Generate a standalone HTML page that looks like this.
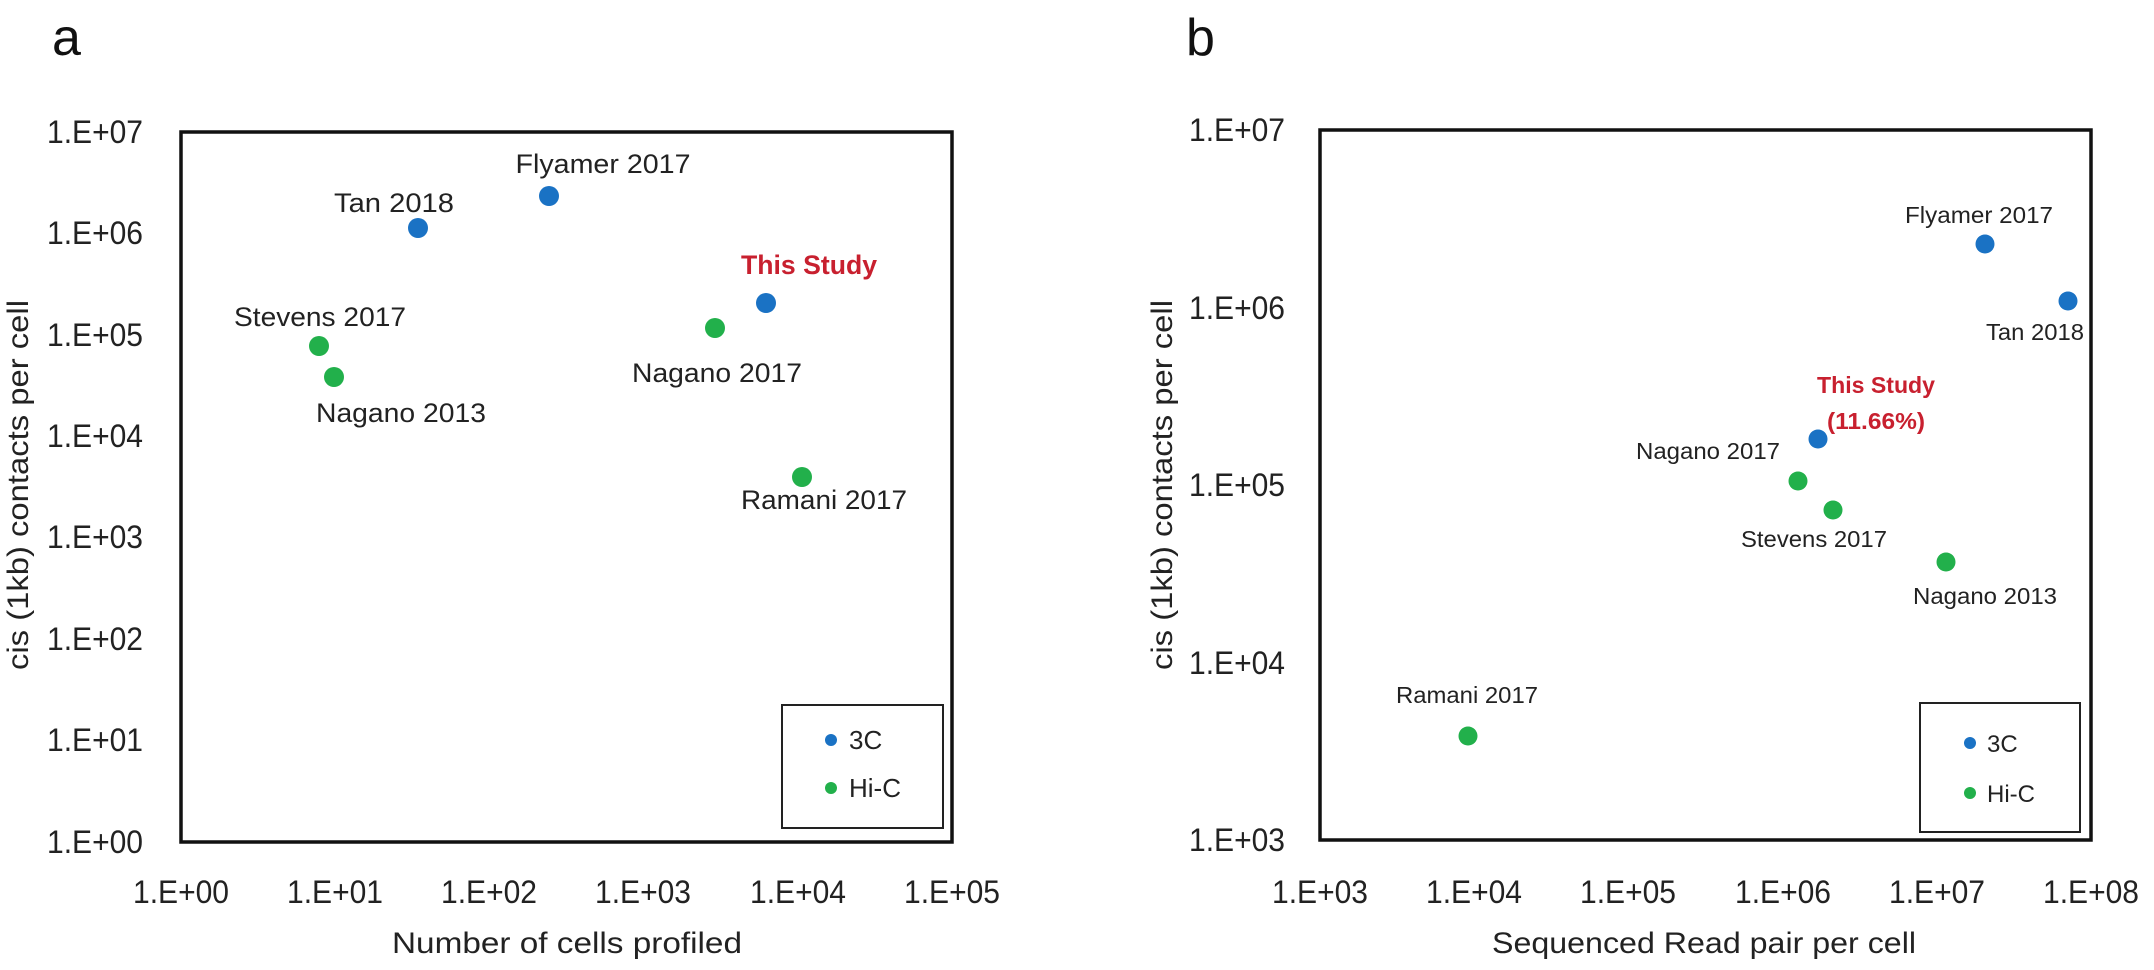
<!DOCTYPE html>
<html><head><meta charset="utf-8"><style>
html,body{margin:0;padding:0;background:#fff;}
svg{display:block;font-family:"Liberation Sans",sans-serif;}
</style></head><body>
<svg width="2154" height="970" viewBox="0 0 2154 970" xmlns="http://www.w3.org/2000/svg">
<rect width="2154" height="970" fill="#fff"/>
<!-- Panel a -->
<text x="52" y="55" font-size="52" fill="#111">a</text>
<rect x="181" y="132" width="771" height="710" fill="none" stroke="#111" stroke-width="3.5"/>
<g font-size="32" fill="#222" text-anchor="end">
<text x="143" y="143" textLength="96" lengthAdjust="spacingAndGlyphs">1.E+07</text>
<text x="143" y="244" textLength="96" lengthAdjust="spacingAndGlyphs">1.E+06</text>
<text x="143" y="346" textLength="96" lengthAdjust="spacingAndGlyphs">1.E+05</text>
<text x="143" y="447" textLength="96" lengthAdjust="spacingAndGlyphs">1.E+04</text>
<text x="143" y="548" textLength="96" lengthAdjust="spacingAndGlyphs">1.E+03</text>
<text x="143" y="650" textLength="96" lengthAdjust="spacingAndGlyphs">1.E+02</text>
<text x="143" y="751" textLength="96" lengthAdjust="spacingAndGlyphs">1.E+01</text>
<text x="143" y="853" textLength="96" lengthAdjust="spacingAndGlyphs">1.E+00</text>
</g>
<g font-size="32" fill="#222" text-anchor="middle">
<text x="181" y="903" textLength="96" lengthAdjust="spacingAndGlyphs">1.E+00</text>
<text x="335" y="903" textLength="96" lengthAdjust="spacingAndGlyphs">1.E+01</text>
<text x="489" y="903" textLength="96" lengthAdjust="spacingAndGlyphs">1.E+02</text>
<text x="643" y="903" textLength="96" lengthAdjust="spacingAndGlyphs">1.E+03</text>
<text x="798" y="903" textLength="96" lengthAdjust="spacingAndGlyphs">1.E+04</text>
<text x="952" y="903" textLength="96" lengthAdjust="spacingAndGlyphs">1.E+05</text>
</g>
<text x="567" y="953" font-size="30" fill="#222" text-anchor="middle" textLength="350" lengthAdjust="spacingAndGlyphs">Number of cells profiled</text>
<text transform="translate(28,485) rotate(-90)" font-size="30" fill="#222" text-anchor="middle" textLength="370" lengthAdjust="spacingAndGlyphs">cis (1kb) contacts per cell</text>
<g fill="#1a72c4">
<circle cx="418" cy="228" r="10"/><circle cx="549" cy="196" r="10"/><circle cx="766" cy="303" r="10"/>
</g>
<g fill="#22b04b">
<circle cx="715" cy="328" r="10"/><circle cx="319" cy="346" r="10"/><circle cx="334" cy="377" r="10"/><circle cx="802" cy="477" r="10"/>
</g>
<g font-size="27" fill="#222" text-anchor="middle">
<text x="394" y="212" textLength="120" lengthAdjust="spacingAndGlyphs">Tan 2018</text>
<text x="603" y="173" textLength="175" lengthAdjust="spacingAndGlyphs">Flyamer 2017</text>
<text x="320" y="326" textLength="172" lengthAdjust="spacingAndGlyphs">Stevens 2017</text>
<text x="401" y="422" textLength="170" lengthAdjust="spacingAndGlyphs">Nagano 2013</text>
<text x="717" y="382" textLength="170" lengthAdjust="spacingAndGlyphs">Nagano 2017</text>
<text x="824" y="509" textLength="166" lengthAdjust="spacingAndGlyphs">Ramani 2017</text>
</g>
<text x="809" y="274" font-size="27" font-weight="bold" fill="#c8202f" text-anchor="middle" textLength="136" lengthAdjust="spacingAndGlyphs">This Study</text>
<rect x="782" y="705" width="161" height="123" fill="#fff" stroke="#222" stroke-width="2"/>
<circle cx="831" cy="740" r="6" fill="#1a72c4"/>
<circle cx="831" cy="788" r="6" fill="#22b04b"/>
<g font-size="26" fill="#222"><text x="849" y="749">3C</text><text x="849" y="797">Hi-C</text></g>

<!-- Panel b -->
<text x="1186" y="55" font-size="52" fill="#111">b</text>
<rect x="1320" y="130" width="771" height="710" fill="none" stroke="#111" stroke-width="3.5"/>
<g font-size="32" fill="#222" text-anchor="end">
<text x="1285" y="141" textLength="96" lengthAdjust="spacingAndGlyphs">1.E+07</text>
<text x="1285" y="319" textLength="96" lengthAdjust="spacingAndGlyphs">1.E+06</text>
<text x="1285" y="496" textLength="96" lengthAdjust="spacingAndGlyphs">1.E+05</text>
<text x="1285" y="674" textLength="96" lengthAdjust="spacingAndGlyphs">1.E+04</text>
<text x="1285" y="851" textLength="96" lengthAdjust="spacingAndGlyphs">1.E+03</text>
</g>
<g font-size="32" fill="#222" text-anchor="middle">
<text x="1320" y="903" textLength="96" lengthAdjust="spacingAndGlyphs">1.E+03</text>
<text x="1474" y="903" textLength="96" lengthAdjust="spacingAndGlyphs">1.E+04</text>
<text x="1628" y="903" textLength="96" lengthAdjust="spacingAndGlyphs">1.E+05</text>
<text x="1783" y="903" textLength="96" lengthAdjust="spacingAndGlyphs">1.E+06</text>
<text x="1937" y="903" textLength="96" lengthAdjust="spacingAndGlyphs">1.E+07</text>
<text x="2091" y="903" textLength="96" lengthAdjust="spacingAndGlyphs">1.E+08</text>
</g>
<text x="1704" y="953" font-size="30" fill="#222" text-anchor="middle" textLength="424" lengthAdjust="spacingAndGlyphs">Sequenced Read pair per cell</text>
<text transform="translate(1172,485) rotate(-90)" font-size="30" fill="#222" text-anchor="middle" textLength="370" lengthAdjust="spacingAndGlyphs">cis (1kb) contacts per cell</text>
<g fill="#1a72c4">
<circle cx="1985" cy="244" r="9.5"/><circle cx="2068" cy="301" r="9.5"/><circle cx="1818" cy="439" r="9.5"/>
</g>
<g fill="#22b04b">
<circle cx="1798" cy="481" r="9.5"/><circle cx="1833" cy="510" r="9.5"/><circle cx="1946" cy="562" r="9.5"/><circle cx="1468" cy="736" r="9.5"/>
</g>
<g font-size="23" fill="#222" text-anchor="middle">
<text x="1979" y="223" textLength="148" lengthAdjust="spacingAndGlyphs">Flyamer 2017</text>
<text x="2035" y="340" textLength="98" lengthAdjust="spacingAndGlyphs">Tan 2018</text>
<text x="1708" y="459" textLength="144" lengthAdjust="spacingAndGlyphs">Nagano 2017</text>
<text x="1814" y="547" textLength="146" lengthAdjust="spacingAndGlyphs">Stevens 2017</text>
<text x="1985" y="604" textLength="144" lengthAdjust="spacingAndGlyphs">Nagano 2013</text>
<text x="1467" y="703" textLength="142" lengthAdjust="spacingAndGlyphs">Ramani 2017</text>
</g>
<g font-size="23" font-weight="bold" fill="#c8202f" text-anchor="middle">
<text x="1876" y="393" textLength="118" lengthAdjust="spacingAndGlyphs">This Study</text>
<text x="1876" y="429" textLength="98" lengthAdjust="spacingAndGlyphs">(11.66%)</text>
</g>
<rect x="1920" y="703" width="160" height="129" fill="#fff" stroke="#222" stroke-width="2"/>
<circle cx="1970" cy="743" r="6" fill="#1a72c4"/>
<circle cx="1970" cy="793" r="6" fill="#22b04b"/>
<g font-size="24" fill="#222"><text x="1987" y="752">3C</text><text x="1987" y="802">Hi-C</text></g>
</svg>
</body></html>
